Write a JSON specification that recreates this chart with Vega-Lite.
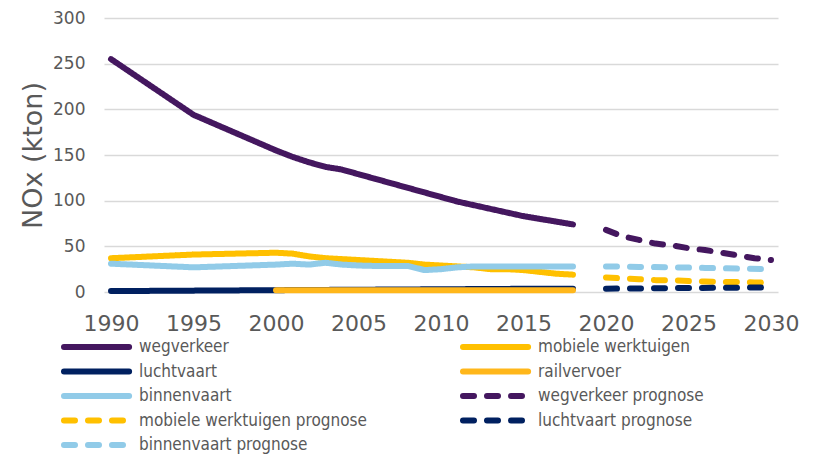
{
  "$schema": "https://vega.github.io/schema/vega-lite/v6.json",
  "width": 674,
  "height": 274,
  "autosize": {"type": "none"},
  "padding": {"left": 104, "top": 18, "right": 39, "bottom": 164},
  "background": "white",
  "config": {
    "view": {"stroke": null},
    "font": "DejaVu Sans",
    "axis": {"labelColor": "#595959", "titleColor": "#595959", "ticks": false, "domain": false, "gridColor": "#D9D9D9", "gridWidth": 1.5}
  },
  "data": {"values": [
    {"series": "wegverkeer", "year": 1990, "value": 255},
    {"series": "wegverkeer", "year": 1995, "value": 194},
    {"series": "wegverkeer", "year": 2000, "value": 155},
    {"series": "wegverkeer", "year": 2001, "value": 148},
    {"series": "wegverkeer", "year": 2002, "value": 142},
    {"series": "wegverkeer", "year": 2003, "value": 137},
    {"series": "wegverkeer", "year": 2004, "value": 134},
    {"series": "wegverkeer", "year": 2005, "value": 129},
    {"series": "wegverkeer", "year": 2006, "value": 124},
    {"series": "wegverkeer", "year": 2007, "value": 119},
    {"series": "wegverkeer", "year": 2008, "value": 114},
    {"series": "wegverkeer", "year": 2009, "value": 109},
    {"series": "wegverkeer", "year": 2010, "value": 104},
    {"series": "wegverkeer", "year": 2011, "value": 99},
    {"series": "wegverkeer", "year": 2012, "value": 95},
    {"series": "wegverkeer", "year": 2013, "value": 91},
    {"series": "wegverkeer", "year": 2014, "value": 87},
    {"series": "wegverkeer", "year": 2015, "value": 83},
    {"series": "wegverkeer", "year": 2016, "value": 80},
    {"series": "wegverkeer", "year": 2017, "value": 77},
    {"series": "wegverkeer", "year": 2018, "value": 74},
    {"series": "mobiele werktuigen", "year": 1990, "value": 37},
    {"series": "mobiele werktuigen", "year": 1995, "value": 41},
    {"series": "mobiele werktuigen", "year": 2000, "value": 43},
    {"series": "mobiele werktuigen", "year": 2001, "value": 42},
    {"series": "mobiele werktuigen", "year": 2002, "value": 39},
    {"series": "mobiele werktuigen", "year": 2003, "value": 37},
    {"series": "mobiele werktuigen", "year": 2004, "value": 36},
    {"series": "mobiele werktuigen", "year": 2005, "value": 35},
    {"series": "mobiele werktuigen", "year": 2006, "value": 34},
    {"series": "mobiele werktuigen", "year": 2007, "value": 33},
    {"series": "mobiele werktuigen", "year": 2008, "value": 32},
    {"series": "mobiele werktuigen", "year": 2009, "value": 30},
    {"series": "mobiele werktuigen", "year": 2010, "value": 29},
    {"series": "mobiele werktuigen", "year": 2011, "value": 28},
    {"series": "mobiele werktuigen", "year": 2012, "value": 27},
    {"series": "mobiele werktuigen", "year": 2013, "value": 25},
    {"series": "mobiele werktuigen", "year": 2014, "value": 25},
    {"series": "mobiele werktuigen", "year": 2015, "value": 24},
    {"series": "mobiele werktuigen", "year": 2016, "value": 22},
    {"series": "mobiele werktuigen", "year": 2017, "value": 20},
    {"series": "mobiele werktuigen", "year": 2018, "value": 19},
    {"series": "binnenvaart", "year": 1990, "value": 31},
    {"series": "binnenvaart", "year": 1995, "value": 27},
    {"series": "binnenvaart", "year": 2000, "value": 30},
    {"series": "binnenvaart", "year": 2001, "value": 31},
    {"series": "binnenvaart", "year": 2002, "value": 30},
    {"series": "binnenvaart", "year": 2003, "value": 32},
    {"series": "binnenvaart", "year": 2004, "value": 30},
    {"series": "binnenvaart", "year": 2005, "value": 29},
    {"series": "binnenvaart", "year": 2006, "value": 28.5},
    {"series": "binnenvaart", "year": 2007, "value": 28.5},
    {"series": "binnenvaart", "year": 2008, "value": 28.5},
    {"series": "binnenvaart", "year": 2009, "value": 24},
    {"series": "binnenvaart", "year": 2010, "value": 25},
    {"series": "binnenvaart", "year": 2011, "value": 27},
    {"series": "binnenvaart", "year": 2012, "value": 28},
    {"series": "binnenvaart", "year": 2013, "value": 28},
    {"series": "binnenvaart", "year": 2014, "value": 28},
    {"series": "binnenvaart", "year": 2015, "value": 28},
    {"series": "binnenvaart", "year": 2016, "value": 28},
    {"series": "binnenvaart", "year": 2017, "value": 28},
    {"series": "binnenvaart", "year": 2018, "value": 28},
    {"series": "luchtvaart", "year": 1990, "value": 1},
    {"series": "luchtvaart", "year": 1995, "value": 1.5},
    {"series": "luchtvaart", "year": 2000, "value": 2},
    {"series": "luchtvaart", "year": 2005, "value": 2.5},
    {"series": "luchtvaart", "year": 2010, "value": 3},
    {"series": "luchtvaart", "year": 2015, "value": 3.5},
    {"series": "luchtvaart", "year": 2018, "value": 3.5},
    {"series": "railvervoer", "year": 2000, "value": 2},
    {"series": "railvervoer", "year": 2005, "value": 2},
    {"series": "railvervoer", "year": 2010, "value": 2},
    {"series": "railvervoer", "year": 2015, "value": 2},
    {"series": "railvervoer", "year": 2018, "value": 2},
    {"series": "wegverkeer prognose", "year": 2020, "value": 68},
    {"series": "wegverkeer prognose", "year": 2021, "value": 61},
    {"series": "wegverkeer prognose", "year": 2022, "value": 57},
    {"series": "wegverkeer prognose", "year": 2023, "value": 53},
    {"series": "wegverkeer prognose", "year": 2024, "value": 51},
    {"series": "wegverkeer prognose", "year": 2025, "value": 48},
    {"series": "wegverkeer prognose", "year": 2026, "value": 46},
    {"series": "wegverkeer prognose", "year": 2027, "value": 43},
    {"series": "wegverkeer prognose", "year": 2028, "value": 40},
    {"series": "wegverkeer prognose", "year": 2029, "value": 37},
    {"series": "wegverkeer prognose", "year": 2030, "value": 35},
    {"series": "mobiele werktuigen prognose", "year": 2020, "value": 16},
    {"series": "mobiele werktuigen prognose", "year": 2021, "value": 15},
    {"series": "mobiele werktuigen prognose", "year": 2022, "value": 14},
    {"series": "mobiele werktuigen prognose", "year": 2023, "value": 13},
    {"series": "mobiele werktuigen prognose", "year": 2024, "value": 13},
    {"series": "mobiele werktuigen prognose", "year": 2025, "value": 12},
    {"series": "mobiele werktuigen prognose", "year": 2026, "value": 11.5},
    {"series": "mobiele werktuigen prognose", "year": 2027, "value": 11},
    {"series": "mobiele werktuigen prognose", "year": 2028, "value": 11},
    {"series": "mobiele werktuigen prognose", "year": 2029, "value": 10.5},
    {"series": "mobiele werktuigen prognose", "year": 2030, "value": 10},
    {"series": "binnenvaart prognose", "year": 2020, "value": 28},
    {"series": "binnenvaart prognose", "year": 2022, "value": 27.5},
    {"series": "binnenvaart prognose", "year": 2024, "value": 27},
    {"series": "binnenvaart prognose", "year": 2026, "value": 26.4},
    {"series": "binnenvaart prognose", "year": 2028, "value": 25.6},
    {"series": "binnenvaart prognose", "year": 2030, "value": 25},
    {"series": "luchtvaart prognose", "year": 2020, "value": 3.6},
    {"series": "luchtvaart prognose", "year": 2025, "value": 4.4},
    {"series": "luchtvaart prognose", "year": 2030, "value": 5}
  ]},
  "mark": {"type": "line", "strokeWidth": 6, "strokeCap": "round", "strokeJoin": "round"},
  "encoding": {
    "x": {
      "field": "year", "type": "quantitative",
      "scale": {"domain": [1990, 2030], "nice": false, "zero": false, "padding": 7},
      "axis": {"values": [1990, 1995, 2000, 2005, 2010, 2015, 2020, 2025, 2030], "format": "d", "grid": false, "labelFontSize": 22, "labelPadding": 21, "title": null, "labelFlush": false}
    },
    "y": {
      "field": "value", "type": "quantitative",
      "scale": {"domain": [0, 300], "nice": false},
      "axis": {"values": [0, 50, 100, 150, 200, 250, 300], "labelFontSize": 17, "labelPadding": 19, "title": "NOx (kton)", "titleFontSize": 27, "titleFontWeight": "normal", "titlePadding": 5}
    },
    "color": {
      "field": "series", "type": "nominal",
      "scale": {
        "domain": ["wegverkeer", "mobiele werktuigen", "luchtvaart", "railvervoer", "binnenvaart", "wegverkeer prognose", "mobiele werktuigen prognose", "luchtvaart prognose", "binnenvaart prognose"],
        "range": ["#44175F", "#FFC000", "#002060", "#FFB71B", "#91CBE8", "#44175F", "#FFC000", "#002060", "#91CBE8"]
      },
      "legend": {
        "title": null, "orient": "none", "legendX": -43, "legendY": 319, "direction": "horizontal",
        "columns": 2, "columnPadding": 84, "rowPadding": 0.5, "padding": 0,
        "symbolType": "M-1,0H8.3", "symbolSize": 196, "symbolStrokeWidth": 6,
        "labelOffset": 58, "labelFont": "DejaVu Sans Condensed", "labelFontSize": 17, "labelColor": "#595959", "labelLimit": 400,
        "encode": {"symbols": {"update": {"strokeCap": {"value": "round"}}}}
      }
    },
    "strokeDash": {
      "field": "series", "type": "nominal",
      "scale": {
        "domain": ["wegverkeer", "mobiele werktuigen", "luchtvaart", "railvervoer", "binnenvaart", "wegverkeer prognose", "mobiele werktuigen prognose", "luchtvaart prognose", "binnenvaart prognose"],
        "range": [[1, 0], [1, 0], [1, 0], [1, 0], [1, 0], [11, 13], [11, 13], [11, 13], [11, 13]]
      },
      "legend": null
    }
  }
}
